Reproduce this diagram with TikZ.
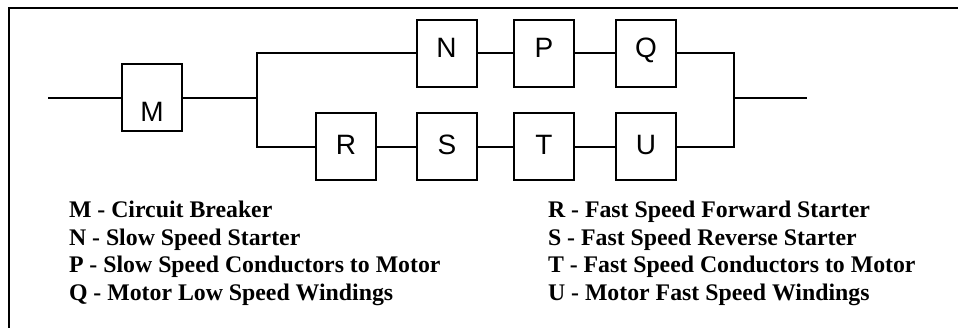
\documentclass[tikz,border=0pt]{standalone}
\usepackage{fontspec}
\setmainfont{Liberation Serif}
\newfontfamily\arialfont{Liberation Sans}
\usetikzlibrary{calc}

\begin{document}
\begin{tikzpicture}[x=1pt,y=-1pt,line width=2pt,
	block/.style={draw,line width=2pt,minimum width=60pt,minimum height=67pt,inner sep=0pt},
	tag/.style={font=\arialfont\fontsize{28}{28}\selectfont,inner sep=0pt,anchor=base},
	legend/.style={font=\bfseries\fontsize{23.8}{27.5}\selectfont,align=left,inner sep=0pt,anchor=base west}]

\useasboundingbox (0,0) rectangle (958,328);

% frame (only top and left edges show)
\draw[line width=1.3pt] (9,328) -- (9,8) -- (958,8);

% the blocks, with letter offset below the centre
\foreach \n/\x/\y/\s in {M/152/98/24pt,
	N/446.5/53.5/3.8pt,P/544/53.5/3.8pt,Q/646/53.5/3.8pt,
	R/346/147/8pt,S/447/147/8pt,T/544/147/8pt,U/646/147/8pt}{
	\node[block] (\n) at (\x,\y) {};
	\node[tag] (\n t) at ([yshift=-\s]\n.center) {\n};
}

\coordinate (in) at (48,98);
\coordinate (jl) at (257,98);
\coordinate (jr) at (734,98);
\coordinate (out) at (807,98);

\draw (in) -- (M) -- (jl);
\draw (N.west) -| (jl) |- (R.west);
\draw (N) -- (P) -- (Q);
\draw (R) -- (S) -- (T) -- (U);
\draw (Q.east) -| (jr) |- (U.east);
\draw (jr) -- (out);

% legend (base anchor sits on the last line)
\node[legend] (keyleft) at (68,300.5) {M - Circuit Breaker\\
	N - Slow Speed Starter\\
	P - Slow Speed Conductors to Motor\\
	Q - Motor Low Speed Windings};
\node[legend] (keyright) at (547,300.5) {R - Fast Speed Forward Starter\\
	S - Fast Speed Reverse Starter\\
	T - Fast Speed Conductors to Motor\\
	U - Motor Fast Speed Windings};

\end{tikzpicture}
\end{document}
